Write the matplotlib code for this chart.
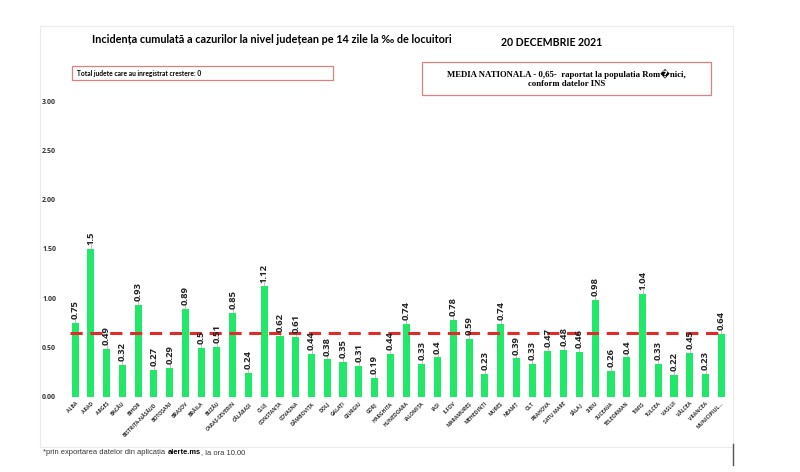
import numpy as np
import matplotlib.pyplot as plt
from matplotlib.patches import Rectangle
from matplotlib.lines import Line2D

# Date incidenta pe judete
judete = ['ALBA', 'ARAD', 'ARGEȘ', 'BACĂU', 'BIHOR', 'BISTRIȚA-NĂSĂUD', 'BOTOȘANI',
          'BRAȘOV', 'BRĂILA', 'BUZĂU', 'CARAȘ-SEVERIN', 'CĂLĂRAȘI', 'CLUJ', 'CONSTANȚA',
          'COVASNA', 'DÂMBOVIȚA', 'DOLJ', 'GALAȚI', 'GIURGIU', 'GORJ', 'HARGHITA',
          'HUNEDOARA', 'IALOMIȚA', 'IAȘI', 'ILFOV', 'MARAMUREȘ', 'MEHEDINȚI', 'MUREȘ',
          'NEAMȚ', 'OLT', 'PRAHOVA', 'SATU MARE', 'SĂLAJ', 'SIBIU', 'SUCEAVA',
          'TELEORMAN', 'TIMIȘ', 'TULCEA', 'VASLUI', 'VÂLCEA', 'VRANCEA', 'MUNICIPIUL...']
incidenta = [0.75, 1.5, 0.49, 0.32, 0.93, 0.27, 0.29, 0.89, 0.5, 0.51, 0.85, 0.24,
             1.12, 0.62, 0.61, 0.44, 0.38, 0.35, 0.31, 0.19, 0.44, 0.74, 0.33, 0.4,
             0.78, 0.59, 0.23, 0.74, 0.39, 0.33, 0.47, 0.48, 0.46, 0.98, 0.26, 0.4,
             1.04, 0.33, 0.22, 0.45, 0.23, 0.64]
etichete = ['0.75', '1.5', '0.49', '0.32', '0.93', '0.27', '0.29', '0.89', '0.5', '0.51',
            '0.85', '0.24', '1.12', '0.62', '0.61', '0.44', '0.38', '0.35', '0.31', '0.19',
            '0.44', '0.74', '0.33', '0.4', '0.78', '0.59', '0.23', '0.74', '0.39', '0.33',
            '0.47', '0.48', '0.46', '0.98', '0.26', '0.4', '1.04', '0.33', '0.22', '0.45',
            '0.23', '0.64']
media = 0.65
yticks = [0.0, 0.5, 1.0, 1.5, 2.0, 2.5, 3.0]

fig = plt.figure(figsize=(8, 4.72), dpi=100)
fig.patch.set_facecolor('white')

# chenar general
fig.patches.append(Rectangle((0.05, 0.053), 0.866, 0.892, transform=fig.transFigure,
                             fill=False, edgecolor='#ebebeb', linewidth=0.8))
fig.lines.append(Line2D([0.916, 0.916], [0.015, 0.059], transform=fig.transFigure,
                        color='#555555', linewidth=1.0))

ax = fig.add_axes([0.084, 0.159, 0.8275, 0.627])
x = np.arange(len(judete))
ax.bar(x, incidenta, width=0.45, color='#22e86a', zorder=2)
ax.plot([-0.3, len(judete) - 0.8], [media, media], color='#e02b2b', linestyle=(0, (4, 2.5)),
        linewidth=2.2, zorder=3)

for xi, v, t in zip(x, incidenta, etichete):
    ax.plot([xi, xi], [v, v + 0.05], color='#aaaaaa', linewidth=0.5, zorder=1)
    ax.text(xi, v + 0.04, t, rotation=90, ha='center', va='bottom', fontsize=6.8,
            fontweight='bold', color='#222222', family='Open Sans', zorder=4)

ax.set_xlim(-0.5, len(judete) - 0.5)
ax.set_ylim(0, 3.0)
ax.set_yticks(yticks)
ax.set_yticklabels(['%.2f' % t for t in yticks], fontsize=5, fontweight='bold',
                   color='#333333', family='Open Sans')
ax.set_xticks(x)
ax.set_xticklabels(judete, rotation=45, ha='right', rotation_mode='anchor', fontsize=3.7,
                   fontweight='bold', color='#333333', family='Open Sans')
ax.tick_params(axis='y', length=0, pad=8)
ax.tick_params(axis='x', length=0, pad=3)
for s in ax.spines.values():
    s.set_visible(False)

# titluri
fig.text(0.34, 0.917, 'Incidența cumulată a cazurilor la nivel județean pe 14 zile la ‰ de locuitori',
         ha='center', va='center', fontsize=7.8, fontweight='bold', family='Lato')
fig.text(0.69, 0.911, '20 DECEMBRIE 2021', ha='center', va='center', fontsize=7.6,
         fontweight='bold', family='Lato')

# caseta total judete
fig.patches.append(Rectangle((0.09, 0.831), 0.326, 0.029, transform=fig.transFigure,
                             fill=False, edgecolor='#d98080', linewidth=0.9))
fig.text(0.096, 0.845, 'Total judete care au inregistrat crestere: 0', ha='left', va='center',
         fontsize=4.8, fontweight='bold', family='Lato')

# caseta media nationala
fig.patches.append(Rectangle((0.528, 0.799), 0.361, 0.070, transform=fig.transFigure,
                             fill=False, edgecolor='#d98080', linewidth=0.9))
fig.text(0.708, 0.834, 'MEDIA NATIONALA - 0,65-  raportat la populatia Rom\ufffdnici,\nconform datelor INS',
         ha='center', va='center', fontsize=6.3, fontweight='bold', linespacing=1.3,
         family=['Liberation Serif', 'DejaVu Sans'])

# nota
t0 = fig.text(0.054, 0.042, '*prin exportarea datelor din aplicația ', ha='left', va='center',
              fontsize=5.4, color='#333333', family='Liberation Sans')
fig.canvas.draw()
x1 = t0.get_window_extent().x1 / fig.bbox.width
t2 = fig.text(x1, 0.042, 'alerte.ms', ha='left', va='center', fontsize=5.4,
              fontweight='bold', family='Liberation Sans')
fig.canvas.draw()
x2 = t2.get_window_extent().x1 / fig.bbox.width
fig.text(x2, 0.042, ', la ora 10.00', ha='left', va='center', fontsize=5.4,
         color='#333333', family='Liberation Sans')

fig.savefig('out.png', dpi=100, facecolor='white')
